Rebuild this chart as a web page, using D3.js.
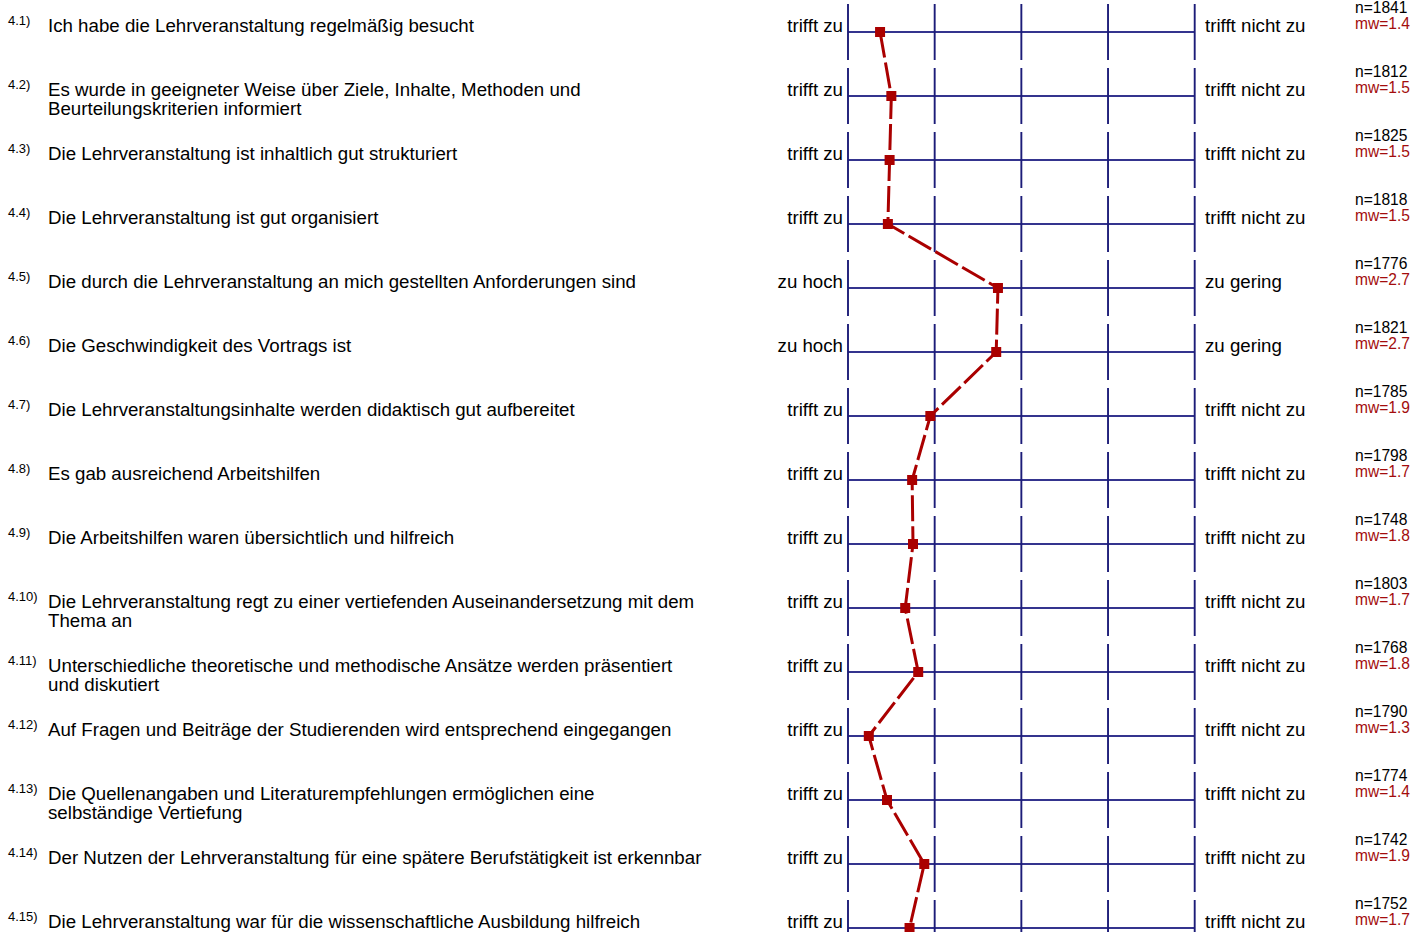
<!DOCTYPE html>
<html><head><meta charset="utf-8">
<script src="https://cdn.jsdelivr.net/npm/d3@7/dist/d3.min.js"></script>
<style>body{margin:0;background:#fff;}svg{display:block;font-family:"Liberation Sans",Arial,sans-serif;}</style>
</head><body>
<svg id="chart" width="1413" height="932"></svg>
<script>
const ids = ["4.1)","4.2)","4.3)","4.4)","4.5)","4.6)","4.7)","4.8)","4.9)","4.10)","4.11)","4.12)","4.13)","4.14)","4.15)"];
const questions = [
  ["Ich habe die Lehrveranstaltung regelmäßig besucht"],
  ["Es wurde in geeigneter Weise über Ziele, Inhalte, Methoden und","Beurteilungskriterien informiert"],
  ["Die Lehrveranstaltung ist inhaltlich gut strukturiert"],
  ["Die Lehrveranstaltung ist gut organisiert"],
  ["Die durch die Lehrveranstaltung an mich gestellten Anforderungen sind"],
  ["Die Geschwindigkeit des Vortrags ist"],
  ["Die Lehrveranstaltungsinhalte werden didaktisch gut aufbereitet"],
  ["Es gab ausreichend Arbeitshilfen"],
  ["Die Arbeitshilfen waren übersichtlich und hilfreich"],
  ["Die Lehrveranstaltung regt zu einer vertiefenden Auseinandersetzung mit dem","Thema an"],
  ["Unterschiedliche theoretische und methodische Ansätze werden präsentiert","und diskutiert"],
  ["Auf Fragen und Beiträge der Studierenden wird entsprechend eingegangen"],
  ["Die Quellenangaben und Literaturempfehlungen ermöglichen eine","selbständige Vertiefung"],
  ["Der Nutzen der Lehrveranstaltung für eine spätere Berufstätigkeit ist erkennbar"],
  ["Die Lehrveranstaltung war für die wissenschaftliche Ausbildung hilfreich"]
];
const leftLabels = ["trifft zu","trifft zu","trifft zu","trifft zu","zu hoch","zu hoch","trifft zu","trifft zu","trifft zu","trifft zu","trifft zu","trifft zu","trifft zu","trifft zu","trifft zu"];
const rightLabels = ["trifft nicht zu","trifft nicht zu","trifft nicht zu","trifft nicht zu","zu gering","zu gering","trifft nicht zu","trifft nicht zu","trifft nicht zu","trifft nicht zu","trifft nicht zu","trifft nicht zu","trifft nicht zu","trifft nicht zu","trifft nicht zu"];
const nValues = [1841,1812,1825,1818,1776,1821,1785,1798,1748,1803,1768,1790,1774,1742,1752];
const mwLabels = ["1.4","1.5","1.5","1.5","2.7","2.7","1.9","1.7","1.8","1.7","1.8","1.3","1.4","1.9","1.7"];
const means = [1.37,1.50,1.48,1.46,2.73,2.71,1.95,1.74,1.75,1.66,1.81,1.24,1.45,1.88,1.71];
const scalePoints = [1,2,3,4,5];

const svg = d3.select("#chart");
const x = d3.scaleLinear().domain([1,5]).range([848,1194.7]);
const y = d3.scalePoint().domain(d3.range(ids.length)).range([32, 32+64*14]);

const rows = svg.append("g").selectAll("g").data(ids).join("g")
  .attr("transform",(d,i)=>`translate(0,${y(i)})`);

rows.append("line").attr("x1",x(1)).attr("x2",x(5)).attr("y1",0).attr("y2",0)
  .attr("stroke","#34348e").attr("stroke-width",1.9);
rows.selectAll("line.v").data(scalePoints).join("line").attr("class","v")
  .attr("x1",d=>x(d)).attr("x2",d=>x(d)).attr("y1",-28).attr("y2",28)
  .attr("stroke","#1c1c78").attr("stroke-width",1.9);

rows.append("text").attr("x",8).attr("y",-7).attr("font-size",13).attr("fill","#000").text(d=>d);
rows.append("text").attr("font-size",18.7).attr("fill","#000")
  .selectAll("tspan").data((d,i)=>questions[i]).join("tspan")
  .attr("x",48).attr("y",(d,j)=>-0.5+j*19).text(d=>d);
rows.append("text").attr("x",843).attr("y",-0.5).attr("text-anchor","end").attr("font-size",18.7).text((d,i)=>leftLabels[i]);
rows.append("text").attr("x",1205).attr("y",-0.5).attr("text-anchor","start").attr("font-size",18.7).text((d,i)=>rightLabels[i]);
rows.append("text").attr("x",1355).attr("y",-19.5).attr("font-size",15.6).attr("fill","#000").text((d,i)=>"n="+nValues[i]);
rows.append("text").attr("x",1355).attr("y",-3.5).attr("font-size",15.6).attr("fill","#a30d0d").text((d,i)=>"mw="+mwLabels[i]);

const line = d3.line().x(d=>x(d)).y((d,i)=>y(i));
svg.append("path").datum(means).attr("d",line).attr("fill","none")
  .attr("stroke","#aa0000").attr("stroke-width",3).attr("stroke-dasharray","26,5");
svg.append("g").selectAll("rect").data(means).join("rect")
  .attr("x",d=>x(d)-5).attr("y",(d,i)=>y(i)-5).attr("width",10).attr("height",10)
  .attr("fill","#aa0000");
</script>
</body></html>
